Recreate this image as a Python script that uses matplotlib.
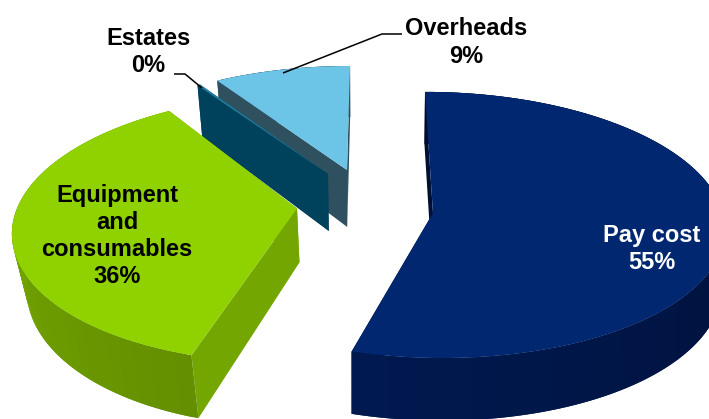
import numpy as np
import matplotlib
matplotlib.use("Agg")
import matplotlib.pyplot as plt
from matplotlib.colors import to_rgb
from matplotlib.patches import Polygon

# Cost shares in percent, clockwise from twelve o'clock
categories = ["Pay cost", "Equipment\nand\nconsumables", "Estates", "Overheads"]
shares = [54.6, 36.2, 0.2, 9.0]

# Tilted-disc projection for each exploded slice: apex position, half-axes,
# perspective strength, shear, thickness and how much the lower face narrows
geometry = {
    "Pay cost": dict(ax=433, ay=213, A=290, B=132, k=0.09, shear=-8.7, depth=57, narrow=0.008),
    "Equipment\nand\nconsumables": dict(ax=297, ay=208.5, A=280, B=131, k=0.15, shear=11, depth=54, narrow=0.043),
    "Estates": dict(ax=328, ay=174, A=268, B=116.5, k=0.12, shear=3.4, depth=57, narrow=0.03),
    "Overheads": dict(ax=347, ay=170, A=272, B=116.5, k=0.12, shear=3.4, depth=57, narrow=0.03),
}
colors = {
    "Pay cost": dict(top="#00276f", wall="#000f33", rim_a="#00194f", rim_b="#000c2e"),
    "Equipment\nand\nconsumables": dict(top="#90d200", wall="#74a600", rim_a="#7fb800", rim_b="#648f00"),
    "Estates": dict(top="#1f7fa3", wall="#00415c", rim_a="#00415c", rim_b="#00415c"),
    "Overheads": dict(top="#6cc4e6", wall="#2f505e", rim_a="#2f505e", rim_b="#2f505e"),
}
text_style = {
    "Pay cost": dict(x=652, y=249, color="white"),
    "Equipment\nand\nconsumables": dict(x=117, y=236, color="black"),
    "Estates": dict(x=148, y=52, color="black"),
    "Overheads": dict(x=466, y=42.5, color="black"),
}
leaders = {
    "Estates": ([174, 185, 202], [74, 74, 88]),
    "Overheads": ([283, 382, 402], [73, 34, 34]),
}

VANISH_X = 354      # lower face narrows toward this x

fig = plt.figure(figsize=(7.09, 4.19), dpi=100)
ax = fig.add_axes([0, 0, 1, 1])
ax.set_xlim(0, 709)
ax.set_ylim(419, 0)
ax.axis("off")


def project(g, theta):
    """Upper-face pixel position and perspective scale at angle theta (degrees)."""
    t = np.radians(theta)
    u, v = np.sin(t), np.cos(t)
    s = 1 / (1 + g["k"] * v)
    return g["ax"] + (g["A"] * u + g["shear"] * v) * s, g["ay"] - g["B"] * v * s, s


def drop(g, x, y, s):
    """Matching point on the lower face."""
    return x + (VANISH_X - x) * g["narrow"], y + g["depth"] * s


def add_poly(xs, ys, color, z):
    ax.add_patch(Polygon(np.column_stack([xs, ys]), closed=True, facecolor=color,
                         edgecolor="none", linewidth=0, zorder=z))


def mix(a, b, f):
    a, b = np.array(to_rgb(a)), np.array(to_rgb(b))
    return tuple(a + (b - a) * f)


# Back slices are painted first, so the green slice overlaps the estates wall
paint_order = {"Overheads": 1, "Estates": 2, "Equipment\nand\nconsumables": 3, "Pay cost": 4}
ends = np.cumsum(shares) * 3.6
starts = ends - np.array(shares) * 3.6

for name, t0, t1 in zip(categories, starts, ends):
    g, c = geometry[name], colors[name]
    base = paint_order[name] * 10
    thetas = np.linspace(t0, t1, max(int(t1 - t0), 3))
    x, y, s = project(g, thetas)
    xb, yb = drop(g, x, y, s)

    # Cut faces at both radial edges
    axb, ayb = drop(g, g["ax"], g["ay"], 1.0)
    for j in (0, -1):
        add_poly([g["ax"], x[j], xb[j], axb], [g["ay"], y[j], yb[j], ayb], c["wall"], base)

    # Outer rim, shaded along the arc; each band runs on under the next so no seams show
    for i in range(len(thetas) - 1):
        f = 1 - (thetas[i] - t0) / (t1 - t0)
        tail = min(i + 2, len(thetas) - 1)
        add_poly(np.r_[x[i:tail + 1], xb[i:tail + 1][::-1]], np.r_[y[i:tail + 1], yb[i:tail + 1][::-1]],
                 mix(c["rim_a"], c["rim_b"], f), base + 1)

    # Upper face
    add_poly(np.r_[g["ax"], x], np.r_[g["ay"], y], c["top"], base + 2)

# Labels carry the rounded share
for name, share in zip(categories, shares):
    st = text_style[name]
    ax.text(st["x"], st["y"], f"{name}\n{share:.0f}%", color=st["color"], ha="center", va="center",
            ma="center", family="Liberation Sans", weight="bold", fontsize=17,
            linespacing=1.24, zorder=100)

for name, (lx, ly) in leaders.items():
    ax.plot(lx, ly, color="black", lw=1.1, zorder=90, solid_capstyle="butt")

fig.savefig("out.png", dpi=100, facecolor="white")
